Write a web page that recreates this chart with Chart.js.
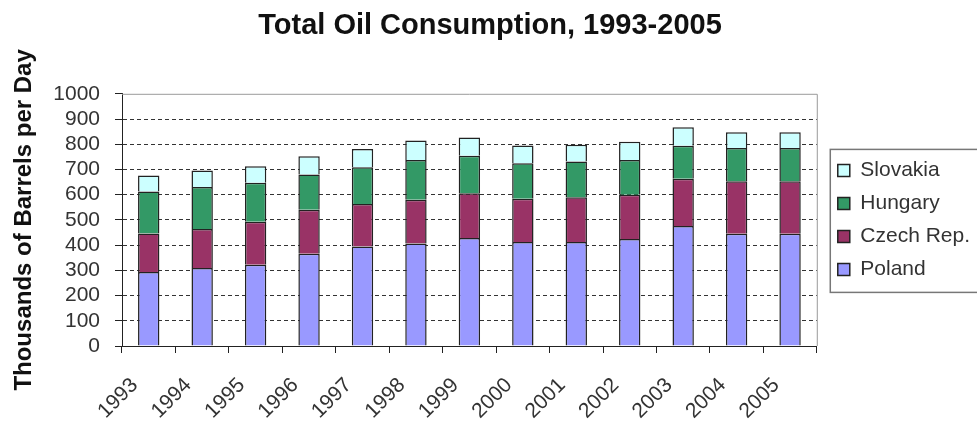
<!DOCTYPE html>
<html>
<head>
<meta charset="utf-8">
<script src="https://cdn.jsdelivr.net/npm/chart.js@4/dist/chart.umd.min.js"></script>
<style>
  html, body { margin: 0; padding: 0; background: #fff; }
  #wrap { width: 977px; height: 421px; }
</style>
</head>
<body>
<div id="wrap"><canvas id="oilChart"></canvas></div>
<script>
// values, thousands of barrels per day
const years = ['1993', '1994', '1995', '1996', '1997', '1998', '1999', '2000', '2001', '2002', '2003', '2004', '2005'];
const poland = [293, 309, 322, 366, 395, 406, 428, 412, 412, 424, 476, 445, 445];
const czech = [153, 155, 171, 174, 168, 174, 178, 172, 178, 176, 187, 208, 208];
const hungary = [167, 166, 154, 140, 146, 158, 148, 141, 142, 138, 131, 132, 132];
const slovakia = [63, 66, 66, 72, 72, 77, 73, 70, 66, 72, 73, 63, 63];

const FONT = "Arial, 'Liberation Sans', sans-serif";

// gray frame on top/right of the plot + box around the legend
const framePlugin = {
  id: 'frame',
  beforeDatasetsDraw(chart) {
    const { ctx, chartArea: a } = chart;
    ctx.save();
    ctx.strokeStyle = '#9a9a9a';
    ctx.lineWidth = 1;
    ctx.beginPath();
    ctx.moveTo(a.left, a.top + 0.5);
    ctx.lineTo(a.right + 0.5, a.top + 0.5);
    ctx.lineTo(a.right + 0.5, a.bottom);
    ctx.stroke();
    ctx.restore();
  },
  afterDraw(chart) {
    const boxes = chart.legend && chart.legend.legendHitBoxes;
    if (!boxes || !boxes.length) return;
    const { ctx } = chart;
    const first = boxes[0], last = boxes[boxes.length - 1];
    const x = first.left - 7.5;
    const top = first.top - 10.5;
    const bottom = last.top + last.height + 12.5;
    ctx.save();
    ctx.strokeStyle = '#777';
    ctx.lineWidth = 1.5;
    ctx.strokeRect(x, top, chart.width + 10 - x, bottom - top);
    ctx.restore();
  }
};

function makeSet(label, data, color) {
  return {
    label: label,
    data: data,
    backgroundColor: color,
    borderColor: '#222',
    borderWidth: 1.5,
    barPercentage: 0.4,
    categoryPercentage: 1
  };
}

new Chart(document.getElementById('oilChart'), {
  type: 'bar',
  data: {
    labels: years,
    datasets: [
      makeSet('Poland', poland, '#9999ff'),
      makeSet('Czech Rep.', czech, '#993366'),
      makeSet('Hungary', hungary, '#339966'),
      makeSet('Slovakia', slovakia, '#ccffff')
    ]
  },
  options: {
    responsive: true,
    maintainAspectRatio: false,
    animation: false,
    layout: { padding: { left: 0, right: -3, top: 0, bottom: 0 } },
    plugins: {
      title: {
        display: true,
        text: 'Total Oil Consumption, 1993-2005',
        color: '#111',
        font: { family: FONT, size: 29, weight: 'bold' },
        padding: { top: 9, bottom: 50 }
      },
      legend: {
        position: 'right',
        fullSize: false,
        reverse: true,
        labels: {
          color: '#333',
          font: { family: FONT, size: 21 },
          boxWidth: 12,
          boxHeight: 12,
          padding: 12
        }
      },
      tooltip: { enabled: false }
    },
    scales: {
      x: {
        stacked: true,
        grid: {
          drawOnChartArea: false,
          drawTicks: true,
          tickLength: 7,
          tickColor: '#222',
          offset: true
        },
        border: { color: '#222', width: 1 },
        ticks: {
          color: '#333',
          font: { family: FONT, size: 21 },
          maxRotation: 45,
          minRotation: 45,
          padding: 20,
          labelOffset: -14,
          autoSkip: false
        },
        afterFit(scale) { scale.height = 75; }
      },
      y: {
        stacked: true,
        min: 0,
        max: 1000,
        ticks: {
          stepSize: 100,
          autoSkip: false,
          color: '#333',
          font: { family: FONT, size: 21 },
          padding: 15,
          callback: (v) => String(v)
        },
        grid: {
          color: (c) => (c.tick && c.tick.value === 1000 ? 'rgba(0,0,0,0)' : '#333'),
          lineWidth: 1,
          tickLength: 7,
          tickColor: '#222',
          tickBorderDash: []
        },
        border: { color: '#222', width: 1, dash: [4, 3] },
        title: {
          display: true,
          text: 'Thousands of Barrels per Day',
          color: '#111',
          font: { family: FONT, size: 24, weight: 'bold' },
          padding: { top: 10, bottom: 0 }
        },
        afterFit(scale) { scale.width = 122; }
      },
      gap: {
        position: 'right',
        display: true,
        grid: { display: false },
        border: { display: false },
        ticks: { display: false },
        afterFit(scale) { scale.width = 9; }
      }
    }
  },
  plugins: [framePlugin]
});
</script>
</body>
</html>
